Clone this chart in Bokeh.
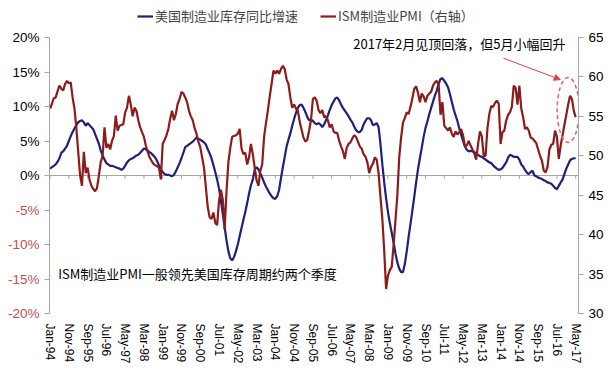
import pandas as pd
from bokeh.plotting import figure
from bokeh.models import (Range1d, LinearAxis, FixedTicker, Legend, LegendItem,
                          Label, ColumnDataSource, Arrow, NormalHead,
                          PrintfTickFormatter)
from bokeh.embed import file_html
from bokeh.resources import INLINE

# ---------------- data ----------------
months = pd.date_range("1994-01-01", "2017-05-01", freq="MS").strftime("%b-%y").tolist()

inventory_yoy = [
    1.0, 1.2, 1.4, 1.6, 2.0, 2.5, 3.3, 3.5, 3.9, 4.3, 5.0, 5.7,            # 1994
    6.3, 6.8, 7.3, 7.7, 7.9, 8.0, 7.7, 7.2, 7.6, 7.3, 7.0, 6.7,            # 1995
    6.0, 5.3, 4.6, 3.6, 2.9, 2.3, 1.8, 1.6, 1.4, 1.4, 1.3, 1.2,            # 1996
    1.1, 1.0, 0.8, 1.0, 1.4, 1.9, 2.2, 2.4, 2.5, 2.7, 2.9, 3.0,            # 1997
    3.3, 3.6, 3.9, 3.8, 3.6, 3.4, 3.2, 2.9, 2.6, 2.1, 1.5, 0.9,            # 1998
    0.5, 0.2, 0.1, 0.1, 0.0, -0.1, 0.1, 0.6, 1.2, 1.8, 2.5, 3.3,           # 1999
    4.1, 4.3, 4.5, 4.7, 4.9, 5.2, 5.5, 5.3, 5.2, 5.0, 4.8, 4.5,            # 2000
    3.8, 3.2, 2.5, 1.5, 0.5, -0.6, -1.9, -3.6, -5.6, -7.5, -9.4, -11.0,    # 2001
    -12.0, -12.3, -11.8, -11.0, -10.0, -8.8, -7.6, -6.4, -5.3, -4.0, -2.6, -1.4,  # 2002
    -0.6, 0.8, 1.2, 0.9, 0.3, -0.3, -1.0, -1.6, -2.1, -2.6, -3.0, -3.3,    # 2003
    -3.4, -3.0, -2.1, -0.4, 1.2, 2.7, 4.2, 5.2, 6.1, 7.2, 8.2, 9.1,        # 2004
    9.8, 10.2, 10.3, 9.8, 9.2, 8.5, 8.0, 8.1, 7.9, 7.6, 7.4, 7.6,          # 2005
    7.4, 7.0, 7.4, 8.0, 8.7, 9.5, 10.2, 10.7, 11.2, 11.3, 10.9, 10.3,      # 2006
    9.8, 9.4, 9.0, 8.6, 8.1, 7.7, 7.1, 6.6, 6.3, 6.3, 6.6, 7.4,            # 2007
    7.9, 8.3, 8.3, 8.0, 7.3, 7.4, 7.6, 7.0, 4.6, 1.6, -1.0, -3.3,          # 2008
    -5.3, -6.9, -8.3, -9.7, -11.3, -12.6, -13.5, -14.0, -14.0, -12.8, -11.0, -8.9,  # 2009
    -7.0, -5.1, -3.1, -1.0, 0.9, 2.5, 4.0, 5.6, 6.9, 7.8, 8.9, 9.8,        # 2010
    10.7, 11.6, 12.3, 13.3, 14.0, 14.1, 13.7, 13.3, 12.8, 11.8, 10.7, 9.6, # 2011
    8.7, 7.9, 6.8, 5.9, 5.0, 4.2, 3.7, 3.5, 3.6, 3.5, 3.4, 3.1,            # 2012
    3.0, 2.8, 2.7, 2.5, 2.3, 2.1, 1.9, 1.8, 1.5, 1.2, 1.0, 0.8,            # 2013
    0.9, 1.1, 1.5, 1.9, 2.6, 3.0, 2.9, 2.7, 2.7, 2.7, 2.3, 1.6,            # 2014
    1.3, 0.8, 0.4, 0.2, 0.5, 0.7, 0.0, -0.1, -0.3, -0.4, -0.5, -0.7,       # 2015
    -0.8, -1.0, -1.1, -1.2, -1.5, -1.8, -2.0, -1.5, -1.0, -0.6, 0.2, 1.0,  # 2016
    1.6, 2.2, 2.4, 2.5, 2.5,                                               # 2017
]

ism_pmi = [
    56.0, 56.6, 57.3, 57.4, 58.2, 58.9, 58.5, 58.3, 59.1, 59.5, 59.2, 59.3,  # 1994
    57.4, 56.0, 53.5, 50.5, 47.5, 46.2, 50.5, 47.8, 48.5, 47.0, 46.2, 45.8,  # 1995
    45.5, 45.9, 47.5, 49.2, 50.0, 53.6, 51.0, 51.5, 50.8, 51.9, 52.5, 55.1,  # 1996
    53.2, 53.8, 53.9, 54.0, 55.5, 56.1, 57.6, 56.5, 55.0, 56.1, 55.7, 54.5,  # 1997
    53.6, 53.0, 52.4, 51.3, 50.5, 49.8, 49.4, 49.0, 48.8, 48.7, 48.5, 47.0,  # 1998
    51.5, 52.0, 52.6, 53.4, 54.7, 55.7, 54.5, 55.3, 56.6, 57.2, 58.1, 57.9,  # 1999
    57.4, 56.8, 55.7, 55.0, 54.5, 53.5, 52.8, 51.8, 51.1, 49.8, 48.5, 46.0,  # 2000
    43.5, 42.2, 42.0, 42.8, 41.5, 41.2, 44.3, 45.7, 44.5, 40.7, 45.5, 49.2,  # 2001
    51.0, 52.4, 52.5, 52.6, 52.8, 53.4, 50.9, 50.2, 50.4, 48.9, 49.8, 51.5,  # 2002
    50.2, 48.5, 46.9, 46.2, 48.1, 48.9, 52.4, 54.1, 55.7, 57.5, 59.1, 60.8,  # 2003
    60.4, 60.8, 60.4, 61.0, 61.4, 61.0, 59.7, 59.1, 57.4, 56.1, 56.5, 56.0,  # 2004
    55.7, 54.3, 53.3, 52.3, 51.8, 52.0, 53.2, 54.5, 57.2, 57.4, 57.0, 55.8,  # 2005
    55.4, 55.8, 54.9, 55.0, 54.5, 53.6, 54.0, 53.1, 52.9, 52.9, 51.9, 51.2,  # 2006
    50.6, 49.6, 51.0, 51.5, 51.7, 52.2, 52.6, 52.4, 51.8, 51.2, 50.9, 50.2,  # 2007
    49.9, 49.2, 47.8, 48.6, 49.0, 49.8, 49.5, 47.8, 44.8, 42.0, 38.0, 33.1,  # 2008
    34.8, 35.5, 35.9, 38.7, 41.8, 45.0, 49.8, 52.3, 54.2, 54.8, 55.5, 55.3,  # 2009
    56.2, 57.3, 58.5, 58.8, 58.0, 56.8, 57.9, 57.5, 56.8, 57.6, 57.9, 58.1,  # 2010
    58.9, 59.3, 59.5, 59.0, 55.2, 56.8, 53.8, 53.5, 53.2, 53.6, 52.8, 52.4,  # 2011
    53.1, 52.7, 53.0, 53.4, 52.6, 51.2, 51.3, 51.9, 51.3, 50.8, 50.3, 49.5,  # 2012
    51.5, 53.1, 52.5, 50.0, 50.0, 53.5, 55.3, 56.3, 56.2, 56.7, 57.0, 56.6,  # 2013
    51.5, 53.0, 53.2, 54.5, 55.2, 55.5, 56.2, 58.9, 58.6, 56.5, 58.9, 56.0,  # 2014
    54.9, 53.4, 53.6, 53.2, 52.3, 52.2, 51.9, 51.6, 50.8, 50.0, 49.4, 48.1,  # 2015
    47.9, 48.6, 50.8, 51.4, 51.5, 53.2, 52.4, 49.6, 51.3, 52.6, 53.9, 55.2,  # 2016
    56.5, 57.6, 57.2, 55.7, 54.9,                                            # 2017
]

label_every = 10
tick_idx = list(range(0, len(months), label_every))
tick_labels = [months[i] for i in tick_idx]

left_ticks = [-20, -15, -10, -5, 0, 5, 10, 15, 20]
right_ticks = [30, 35, 40, 45, 50, 55, 60, 65]

legend_inv = "美国制造业库存同比增速"
legend_pmi = "ISM制造业PMI（右轴）"
note_top = "2017年2月见顶回落，但5月小幅回升"
note_bottom = "ISM制造业PMI一般领先美国库存周期约两个季度"

# ---------------- styling / layout ----------------
BLUE = "#1f1f7c"
RED = "#8e1b1b"
AX = "#a6a6a6"
NEG_RED = "#c0504d"
NUM_FONT = "Liberation Sans"
CJK_FONT = "Noto Sans CJK SC"
W, H = 611, 374
PLOT_LEFT, PLOT_TOP = 49, 37          # where the axes box starts inside the canvas
PLOT_BOTTOM_GAP = 10                  # frame continues below the axes box (room for "-20%")
B_RIGHT, B_BOTTOM = 33, 51
TICK_OUT, STANDOFF = 5, 5
YLAB_SIZE = "13.5px"

X0, X1 = -0.3, 281.5                  # month range covered by the axes box
L0, L1 = -20, 20                      # left axis bounds (%)
R0, R1 = 30, 65                       # right axis bounds (PMI)

# frame covers the canvas left/top/bottom margins so that the outer texts are not clipped
box_w = W - PLOT_LEFT - B_RIGHT
box_h = H - PLOT_TOP - B_BOTTOM - PLOT_BOTTOM_GAP
px_per_x = box_w / (X1 - X0)
x_start = X0 - PLOT_LEFT / px_per_x
y_end = L1 + PLOT_TOP * (L1 - L0) / box_h
y_start = L0 - PLOT_BOTTOM_GAP * (L1 - L0) / box_h
r_end = R1 + PLOT_TOP * (R1 - R0) / box_h
r_start = R0 - PLOT_BOTTOM_GAP * (R1 - R0) / box_h

x = list(range(len(months)))
src = ColumnDataSource(dict(x=x, inv=inventory_yoy, pmi=ism_pmi, month=months))

p = figure(width=W, height=H, x_range=Range1d(x_start, X1), y_range=Range1d(y_start, y_end),
           output_backend="svg", toolbar_location=None, y_axis_location=None,
           min_border_left=0, min_border_right=B_RIGHT,
           min_border_top=0, min_border_bottom=B_BOTTOM)
p.extra_y_ranges = {"pmi": Range1d(r_start, r_end)}
p.outline_line_color = None
p.xgrid.visible = False
p.ygrid.visible = False
p.background_fill_color = "white"
p.border_fill_color = "white"

# bottom axis: labels only
xa = p.xaxis[0]
xa.ticker = FixedTicker(ticks=tick_idx)
xa.major_label_overrides = {i: lab for i, lab in zip(tick_idx, tick_labels)}
xa.major_label_orientation = "vertical"
xa.axis_line_color = None
xa.major_tick_line_color = None
xa.minor_tick_line_color = None
xa.major_tick_out = 0
xa.major_label_standoff = 0
xa.major_label_text_font = NUM_FONT
xa.major_label_text_font_size = "12px"
xa.major_label_text_color = "#000000"

# left axis pinned at the start of the month range: line, ticks, non-negative labels
la = LinearAxis(fixed_location=X0, bounds=(L0, L1), ticker=FixedTicker(ticks=left_ticks),
                formatter=PrintfTickFormatter(format="%d%%"))
la.major_label_overrides = {t: "" for t in left_ticks if t < 0}
la.axis_line_color = AX
la.major_tick_line_color = AX
la.major_tick_out = TICK_OUT
la.major_tick_in = 0
la.minor_tick_line_color = None
la.major_label_standoff = STANDOFF
la.major_label_text_font = NUM_FONT
la.major_label_text_font_size = YLAB_SIZE
la.major_label_text_color = "#000000"
p.add_layout(la, "left")

# negative labels in red
neg_ticks = [t for t in left_ticks if t < 0]
na = LinearAxis(fixed_location=X0, bounds=(L0, L1), ticker=FixedTicker(ticks=neg_ticks),
                formatter=PrintfTickFormatter(format="%d%%"))
na.axis_line_color = None
na.major_tick_line_color = None
na.minor_tick_line_color = None
na.major_tick_out = TICK_OUT
na.major_tick_in = 0
na.major_label_standoff = STANDOFF
na.major_label_text_font = NUM_FONT
na.major_label_text_font_size = YLAB_SIZE
na.major_label_text_color = NEG_RED
p.add_layout(na, "left")

# right axis
ra = LinearAxis(y_range_name="pmi", bounds=(R0, R1), ticker=FixedTicker(ticks=right_ticks))
ra.axis_line_color = AX
ra.major_tick_line_color = AX
ra.major_tick_out = TICK_OUT
ra.major_tick_in = 0
ra.minor_tick_line_color = None
ra.major_label_standoff = STANDOFF
ra.major_label_text_font = NUM_FONT
ra.major_label_text_font_size = YLAB_SIZE
ra.major_label_text_color = "#000000"
p.add_layout(ra, "right")

# zero line with category ticks
p.segment(x0=[X0], y0=[0], x1=[X1], y1=[0], line_color=AX, line_width=1.2)
p.segment(x0=tick_idx, y0=[0] * len(tick_idx), x1=tick_idx, y1=[-0.5] * len(tick_idx),
          line_color=AX, line_width=1)

# series
r_inv = p.line("x", "inv", source=src, line_color=BLUE, line_width=2.2)
r_pmi = p.line("x", "pmi", source=src, y_range_name="pmi", line_color=RED, line_width=2.2)

# legend at the top of the canvas (inside the frame)
legend = Legend(items=[LegendItem(label=legend_inv, renderers=[r_inv]),
                       LegendItem(label=legend_pmi, renderers=[r_pmi])],
                orientation="horizontal", location=(137, H - B_BOTTOM - 25))
legend.border_line_color = None
legend.background_fill_alpha = 0
legend.label_text_font = CJK_FONT
legend.label_text_font_size = "13px"
legend.label_height = 14
legend.glyph_width = 16
legend.glyph_height = 10
legend.label_standoff = 2
legend.spacing = 22
legend.padding = 0
legend.margin = 0
p.add_layout(legend)

# annotations
p.add_layout(Label(x=4.3, y=-14.2, text=note_bottom, text_font=CJK_FONT, text_font_size="13px",
                   text_baseline="middle", text_color="#000000"))
p.add_layout(Label(x=161.5, y=19.1, text=note_top, text_font=CJK_FONT, text_font_size="13px",
                   text_baseline="middle", text_color="#000000"))
ANN_RED = "#e0404a"
p.add_layout(Arrow(end=NormalHead(size=6, fill_color=ANN_RED, line_color=ANN_RED),
                   x_start=241.5, y_start=17.0, x_end=271.8, y_end=13.9,
                   line_color=ANN_RED, line_width=1))
p.ellipse(x=[276.0], y=[9.5], width=11.7, height=9.4, fill_alpha=0,
          line_color="#e06070", line_dash="4 3", line_width=1.5)

open("out.html", "w").write(file_html(p, INLINE))
